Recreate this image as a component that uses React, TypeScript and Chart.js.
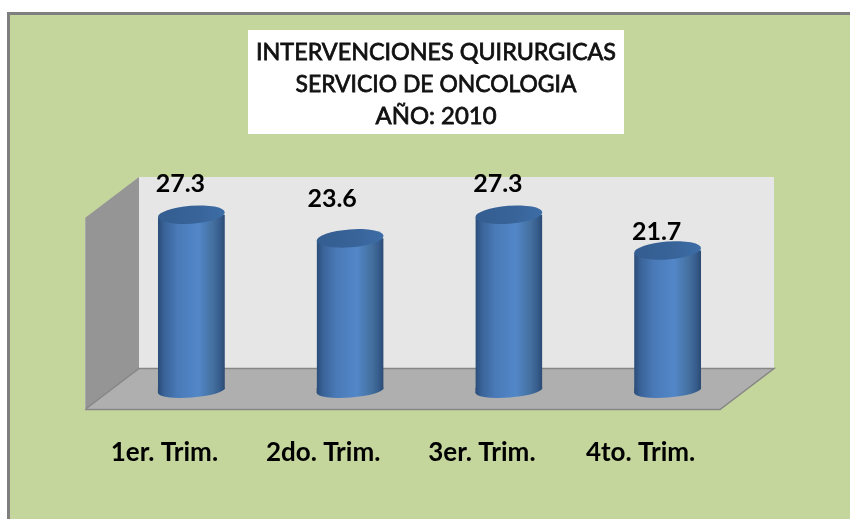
import React, { useEffect, useRef } from "react";
import { Chart, registerables } from "chart.js";

Chart.register(...registerables);

const categories = ["1er. Trim.", "2do. Trim.", "3er. Trim.", "4to. Trim."];
const values = [27.3, 23.6, 27.3, 21.7];
const titleLines = ["INTERVENCIONES QUIRURGICAS", "SERVICIO DE ONCOLOGIA", "AÑO: 2010"];

const FONT = "Lato, Carlito, Calibri, sans-serif";
const DEPTH_X = 27;
const DEPTH_Y = 20.5;
const RY = 9;
const TILT = -0.075;
const titleFit = [360, 281, 121];
const labelNudge = [
  { dx: -11, dy: -31 },
  { dx: -18, dy: -39 },
  { dx: -11, dy: -31 },
  { dx: -11, dy: -19 },
];

function sideGradient(ctx: CanvasRenderingContext2D, l: number, r: number) {
  const g = ctx.createLinearGradient(l, 0, r, 0);
  g.addColorStop(0, "#2A4C78");
  g.addColorStop(0.1, "#3A6499");
  g.addColorStop(0.3, "#4A7AB8");
  g.addColorStop(0.6, "#5287C8");
  g.addColorStop(0.82, "#44709F");
  g.addColorStop(0.93, "#365C8C");
  g.addColorStop(1, "#2A4A72");
  return g;
}

function capGradient(ctx: CanvasRenderingContext2D, l: number, r: number) {
  const g = ctx.createLinearGradient(l, 0, r, 0);
  g.addColorStop(0, "#345D90");
  g.addColorStop(0.6, "#38649A");
  g.addColorStop(1, "#3D6DA6");
  return g;
}

const scenePlugin = {
  id: "scene",
  beforeDraw(chart: any) {
    const { ctx, chartArea: a, width, height } = chart;
    ctx.save();
    ctx.fillStyle = "#FFFFFF";
    ctx.fillRect(0, 0, width, height);
    ctx.fillStyle = "#7F7F7F";
    ctx.fillRect(7, 12, width - 7, height - 12);
    ctx.fillStyle = "#C4D69C";
    ctx.fillRect(10, 15, width - 10, height - 15);

    const backL = a.left + DEPTH_X;
    const backR = a.right + DEPTH_X;
    const backT = a.top - DEPTH_Y;
    const backB = a.bottom - DEPTH_Y;
    const frontL = a.left - DEPTH_X;
    const frontR = a.right - DEPTH_X;
    const frontB = a.bottom + DEPTH_Y;
    const frontT = a.top + DEPTH_Y;

    ctx.fillStyle = "#E6E6E6";
    ctx.fillRect(backL, backT, backR - backL, backB - backT);

    ctx.fillStyle = "#959595";
    ctx.beginPath();
    ctx.moveTo(frontL, frontT);
    ctx.lineTo(backL, backT);
    ctx.lineTo(backL, backB);
    ctx.lineTo(frontL, frontB);
    ctx.closePath();
    ctx.fill();

    ctx.fillStyle = "#AFAFAF";
    ctx.beginPath();
    ctx.moveTo(backL, backB);
    ctx.lineTo(backR, backB);
    ctx.lineTo(frontR, frontB);
    ctx.lineTo(frontL, frontB);
    ctx.closePath();
    ctx.fill();

    ctx.strokeStyle = "#868686";
    ctx.lineWidth = 1.5;
    ctx.beginPath();
    ctx.moveTo(frontL, frontB);
    ctx.lineTo(frontR, frontB);
    ctx.lineTo(backR, backB);
    ctx.lineTo(backL, backB);
    ctx.lineTo(frontL, frontB);
    ctx.stroke();

    ctx.strokeStyle = "#A8A8A8";
    ctx.lineWidth = 1;
    ctx.beginPath();
    ctx.moveTo(frontL + 0.5, frontB);
    ctx.lineTo(frontL + 0.5, frontT);
    ctx.stroke();

    // title panel
    ctx.fillStyle = "#FFFFFF";
    ctx.fillRect(248, 30, 376, 104);
    ctx.fillStyle = "#111111";
    ctx.strokeStyle = "#111111";
    ctx.lineWidth = 0.8;
    ctx.font = `400 24px ${FONT}`;
    ctx.textAlign = "center";
    ctx.textBaseline = "middle";
    titleLines.forEach((t, i) => {
      ctx.fillText(t, 436, 52 + i * 32, titleFit[i]);
      ctx.strokeText(t, 436, 52 + i * 32, titleFit[i]);
    });
    ctx.restore();

    // bottom caps of the cylinders
    const bars = chart.getDatasetMeta(0).data;
    ctx.save();
    bars.forEach((b: any) => {
      const rx = b.width / 2;
      const cy = b.base + 1.5;
      const t = rx * Math.tan(-TILT);
      ctx.fillStyle = sideGradient(ctx, b.x - rx, b.x + rx);
      ctx.beginPath();
      ctx.moveTo(b.x - rx, b.base - 1);
      ctx.lineTo(b.x + rx, b.base - 1);
      ctx.lineTo(b.x + rx, cy - t);
      ctx.lineTo(b.x - rx, cy + t);
      ctx.closePath();
      ctx.fill();
      ctx.beginPath();
      ctx.ellipse(b.x, cy, rx, RY - 2, TILT, 0, Math.PI * 2);
      ctx.fill();
    });
    ctx.restore();
  },
  beforeDatasetDraw(chart: any) {
    const { ctx } = chart;
    const bars = chart.getDatasetMeta(0).data;
    ctx.save();
    ctx.beginPath();
    bars.forEach((b: any) => {
      const rx = b.width / 2;
      const t = rx * Math.tan(-TILT);
      ctx.moveTo(b.x - rx, b.y + t);
      ctx.lineTo(b.x + rx, b.y - t);
      ctx.lineTo(b.x + rx, b.base);
      ctx.lineTo(b.x - rx, b.base);
      ctx.closePath();
    });
    ctx.clip();
  },
  afterDatasetDraw(chart: any) {
    chart.ctx.restore();
  },
  afterDatasetsDraw(chart: any) {
    const { ctx } = chart;
    const bars = chart.getDatasetMeta(0).data;
    ctx.save();
    bars.forEach((b: any, i: number) => {
      const rx = b.width / 2;
      ctx.fillStyle = capGradient(ctx, b.x - rx, b.x + rx);
      ctx.beginPath();
      ctx.ellipse(b.x, b.y, rx, RY, TILT, 0, Math.PI * 2);
      ctx.fill();

      ctx.fillStyle = "#000000";
      ctx.font = `700 25px ${FONT}`;
      ctx.textAlign = "center";
      ctx.textBaseline = "middle";
      ctx.fillText(values[i].toFixed(1), b.x + labelNudge[i].dx, b.y + labelNudge[i].dy);
    });
    ctx.restore();
  },
};

export default function App() {
  const ref = useRef<HTMLCanvasElement | null>(null);
  useEffect(() => {
    if (!ref.current) return;
    const chart = new Chart(ref.current, {
      type: "bar",
      data: {
        labels: categories,
        datasets: [
          {
            data: values,
            barPercentage: 0.422,
            categoryPercentage: 1,
            borderWidth: 0,
            backgroundColor: (c: any) => {
              const x = c.chart.scales.x;
              if (!x || c.dataIndex === undefined) return "#4F81BD";
              const mid = x.getPixelForValue(c.dataIndex);
              if (!Number.isFinite(mid)) return "#4F81BD";
              return sideGradient(c.chart.ctx, mid - 33.5, mid + 33.5);
            },
          },
        ],
      },
      options: {
        responsive: false,
        animation: false,
        layout: { padding: { left: 112, right: 103, top: 197.5, bottom: 0 } },
        plugins: { legend: { display: false }, tooltip: { enabled: false }, title: { display: false } },
        scales: {
          x: {
            grid: { display: false },
            border: { display: false },
            ticks: {
              padding: 40,
              labelOffset: -27,
              color: "#000000",
              maxRotation: 0,
              font: { family: FONT, size: 26, weight: "bold" },
            },
            afterFit: (s: any) => {
              s.height = 130;
            },
          },
          y: { display: false, min: 0, max: 30 },
        },
      },
      plugins: [scenePlugin],
    } as any);
    return () => chart.destroy();
  }, []);
  return (
    <div style={{ position: "absolute", left: 0, top: 0, width: 850, height: 519 }}>
      <canvas ref={ref} width={850} height={519} style={{ display: "block" }} />
    </div>
  );
}
